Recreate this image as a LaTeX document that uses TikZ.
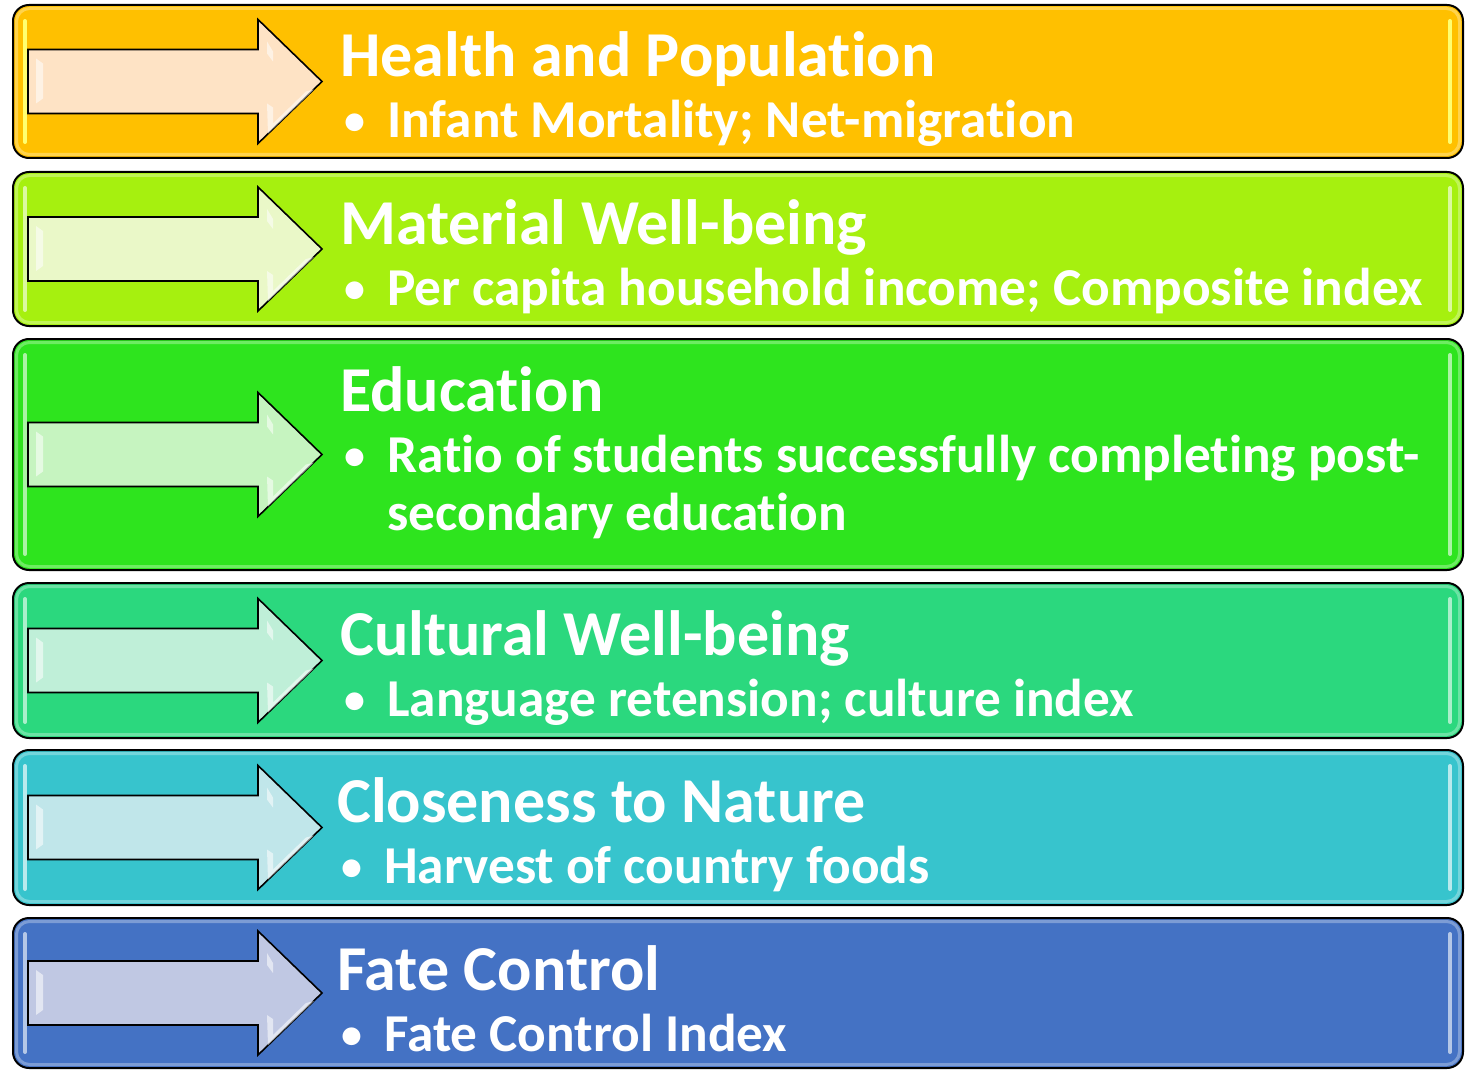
\documentclass[tikz,border=0pt]{standalone}
\usepackage{fontspec}
\setmainfont{Carlito}[Ligatures=NoCommon]
\definecolor{cA}{HTML}{FFC000}\definecolor{aA}{HTML}{FEE3C5}
\definecolor{cB}{HTML}{A6F00F}\definecolor{aB}{HTML}{EAF8C8}
\definecolor{cC}{HTML}{2EE41E}\definecolor{aC}{HTML}{C6F4C0}
\definecolor{cD}{HTML}{2BD87E}\definecolor{aD}{HTML}{BFEFD8}
\definecolor{cE}{HTML}{37C4CD}\definecolor{aE}{HTML}{C0E6EA}
\definecolor{cF}{HTML}{4472C4}\definecolor{aF}{HTML}{C0C8E3}
\definecolor{gA}{HTML}{FFFF70}
\tikzset{
  panel/.style={draw=black, line width=2pt, rounded corners=16pt, minimum width=1450pt, inner sep=0pt},
  glow/.style={line width=3pt, rounded corners=13pt, opacity=0.55},
  bar/.style={line width=4pt, line cap=round},
  headtxt/.style={anchor=base west, text=white, font=\fontsize{64}{72}\selectfont\bfseries, inner sep=0pt},
  itemtxt/.style={anchor=base west, text=white, font=\fontsize{53.3}{57}\selectfont\bfseries, inner sep=0pt},
  bullettxt/.style={anchor=base west, text=white, font=\fontsize{42}{42}\selectfont\bfseries, inner sep=0pt},
  arrowshape/.style={draw=black, line width=1.6pt, line join=miter},
  bevel/.style={fill=white, opacity=0.55, draw=none}
}
% #1 name #2 top #3 bottom #4 fill #5 arrow fill #6 heading #7 item #8 text x #9 bar colour
\newcommand\mypanel[9]{%
  \pgfmathsetmacro\pctr{(#2+#3)/2}%
  \pgfmathsetmacro\phgt{#3-#2}%
  \node[panel, fill=#4, minimum height=\phgt pt] (#1) at (738,\pctr) {};
  \draw[glow, draw=#4!45!white] (16.5,#2+3.5) rectangle (1459.5,#3-3.5);
  \draw[bar, draw=#9] (25,#2+16) -- (25,#3-16);
  \draw[bar, draw=#9] (1450,#2+16) -- (1450,#3-16);
  \begin{scope}[shift={(0,\pctr)}]
    \draw[arrowshape, fill=#5] (28,-32) -- (258,-32) -- (258,-62) -- (322,0) -- (258,62) -- (258,32) -- (28,32) -- cycle;
    \fill[bevel] (36,-23) -- (43,-18) -- (43,17) -- (36,22) -- cycle;
    \fill[bevel] (267,-40) -- (273,-30) -- (273,-20) -- (267,-28) -- cycle;
    \fill[bevel] (267,22) -- (273,26) -- (273,42) -- (306,10) -- (314,8) -- (268,52) -- cycle;
  \end{scope}
  \node[headtxt] (#1h) at (#8,#2+72) {#6};
  \node[bullettxt] (#1b) at (#8+4,#2+130) {\textbullet};
  \node[itemtxt] (#1i) at (#8+47,#2+133) {#7};
}
\begin{document}
\begin{tikzpicture}[x=1pt,y=-1pt]
  \useasboundingbox (0,0) rectangle (1473,1070);
  \mypanel{p1}{5}{158}{cA}{aA}{Health and Population}{Infant Mortality; Net-migration}{340}{gA}
  \mypanel{p2}{172}{326}{cB}{aB}{Material Well-being}{Per capita household income; Composite index}{340}{cB!40!white}
  \mypanel{p3}{339}{570}{cC}{aC}{Education}{Ratio of students successfully completing post-}{340}{cC!40!white}
  \node[itemtxt] (p3j) at (387,530) {secondary education};
  \mypanel{p4}{583}{738}{cD}{aD}{Cultural Well-being}{Language retension; culture index}{340}{cD!40!white}
  \mypanel{p5}{750}{905}{cE}{aE}{Closeness to Nature}{Harvest of country foods}{337}{cE!35!white}
  \mypanel{p6}{918}{1068}{cF}{aF}{Fate Control}{Fate Control Index}{337}{cF!40!white}
\end{tikzpicture}
\end{document}
